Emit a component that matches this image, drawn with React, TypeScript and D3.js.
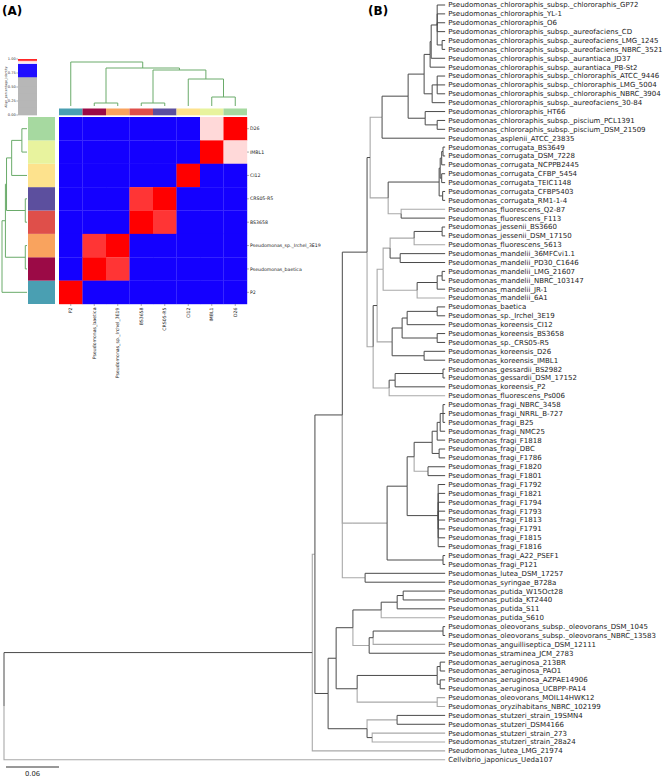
import React from "react";
import * as d3 from "d3";

// ---------------- Panel B data ----------------
const leafNames = [
  "Pseudomonas_chlororaphis_subsp._chlororaphis_GP72",
  "Pseudomonas_chlororaphis_YL-1",
  "Pseudomonas_chlororaphis_O6",
  "Pseudomonas_chlororaphis_subsp._aureofaciens_CD",
  "Pseudomonas_chlororaphis_subsp._aureofaciens_LMG_1245",
  "Pseudomonas_chlororaphis_subsp._aureofaciens_NBRC_3521",
  "Pseudomonas_chlororaphis_subsp._aurantiaca_JD37",
  "Pseudomonas_chlororaphis_subsp._aurantiaca_PB-St2",
  "Pseudomonas_chlororaphis_subsp._chlororaphis_ATCC_9446",
  "Pseudomonas_chlororaphis_subsp._chlororaphis_LMG_5004",
  "Pseudomonas_chlororaphis_subsp._chlororaphis_NBRC_3904",
  "Pseudomonas_chlororaphis_subsp._aureofaciens_30-84",
  "Pseudomonas_chlororaphis_HT66",
  "Pseudomonas_chlororaphis_subsp._piscium_PCL1391",
  "Pseudomonas_chlororaphis_subsp._piscium_DSM_21509",
  "Pseudomonas_asplenii_ATCC_23835",
  "Pseudomonas_corrugata_BS3649",
  "Pseudomonas_corrugata_DSM_7228",
  "Pseudomonas_corrugata_NCPPB2445",
  "Pseudomonas_corrugata_CFBP_5454",
  "Pseudomonas_corrugata_TEIC1148",
  "Pseudomonas_corrugata_CFBP5403",
  "Pseudomonas_corrugata_RM1-1-4",
  "Pseudomonas_fluorescens_Q2-87",
  "Pseudomonas_fluorescens_F113",
  "Pseudomonas_jessenii_BS3660",
  "Pseudomonas_jessenii_DSM_17150",
  "Pseudomonas_fluorescens_5613",
  "Pseudomonas_mandelii_36MFCvi1.1",
  "Pseudomonas_mandelii_PD30_C1646",
  "Pseudomonas_mandelii_LMG_21607",
  "Pseudomonas_mandelii_NBRC_103147",
  "Pseudomonas_mandelii_JR-1",
  "Pseudomonas_mandelii_6A1",
  "Pseudomonas_baetica",
  "Pseudomonas_sp._Irchel_3E19",
  "Pseudomonas_koreensis_CI12",
  "Pseudomonas_koreensis_BS3658",
  "Pseudomonas_sp._CRS05-R5",
  "Pseudomonas_koreensis_D26",
  "Pseudomonas_koreensis_IMBL1",
  "Pseudomonas_gessardii_BS2982",
  "Pseudomonas_gessardii_DSM_17152",
  "Pseudomonas_koreensis_P2",
  "Pseudomonas_fluorescens_Ps006",
  "Pseudomonas_fragi_NBRC_3458",
  "Pseudomonas_fragi_NRRL_B-727",
  "Pseudomonas_fragi_B25",
  "Pseudomonas_fragi_NMC25",
  "Pseudomonas_fragi_F1818",
  "Pseudomonas_fragi_DBC",
  "Pseudomonas_fragi_F1786",
  "Pseudomonas_fragi_F1820",
  "Pseudomonas_fragi_F1801",
  "Pseudomonas_fragi_F1792",
  "Pseudomonas_fragi_F1821",
  "Pseudomonas_fragi_F1794",
  "Pseudomonas_fragi_F1793",
  "Pseudomonas_fragi_F1813",
  "Pseudomonas_fragi_F1791",
  "Pseudomonas_fragi_F1815",
  "Pseudomonas_fragi_F1816",
  "Pseudomonas_fragi_A22_PSEF1",
  "Pseudomonas_fragi_P121",
  "Pseudomonas_lutea_DSM_17257",
  "Pseudomonas_syringae_B728a",
  "Pseudomonas_putida_W15Oct28",
  "Pseudomonas_putida_KT2440",
  "Pseudomonas_putida_S11",
  "Pseudomonas_putida_S610",
  "Pseudomonas_oleovorans_subsp._oleovorans_DSM_1045",
  "Pseudomonas_oleovorans_subsp._oleovorans_NBRC_13583",
  "Pseudomonas_anguilliseptica_DSM_12111",
  "Pseudomonas_straminea_JCM_2783",
  "Pseudomonas_aeruginosa_213BR",
  "Pseudomonas_aeruginosa_PAO1",
  "Pseudomonas_aeruginosa_AZPAE14906",
  "Pseudomonas_aeruginosa_UCBPP-PA14",
  "Pseudomonas_oleovorans_MOIL14HWK12",
  "Pseudomonas_oryzihabitans_NBRC_102199",
  "Pseudomonas_stutzeri_strain_19SMN4",
  "Pseudomonas_stutzeri_DSM4166",
  "Pseudomonas_stutzeri_strain_273",
  "Pseudomonas_stutzeri_strain_28a24",
  "Pseudomonas_lutea_LMG_21974",
  "Cellvibrio_japonicus_Ueda107",
];

// Topology: leaves are 1-based indices into leafNames; "@d" = node depth
// (substitutions/site from root); "*" = edge drawn in light grey.
const cladeChloro =
  "((((((1,2,3,4,(5,6)@0.496)@0.4904,7)@0.4836,8)@0.4824,((9,10,11)@0.4904,12)@0.4847)@0.4756,(13,(14,15)@0.4904)@0.4768)@0.4575,16)@0.428*";
const cladeCorrugata =
  "((((17,18)@0.497,19)@0.4955,(20,21)@0.4955)@0.4938,(22,23)@0.4966)@0.4926";
const cladeFluor = `(${cladeCorrugata},(24*,25)@0.4496*)@0.4349*`;
const cladeUpper = `(${cladeChloro},${cladeFluor})@0.4145`;
const cladeMandelii = "((((26,27)@0.496,28*)@0.4643*,(29,30)@0.4485)@0.4371*,(((31,32)@0.496,33)@0.4904,34*)@0.4677*)@0.4292*";
const cladeKoreensis = "((((35,36)@0.4904,37)@0.4564,(38,39)@0.4904)@0.4507,(40,41)@0.4756)@0.4394*";
const cladeGessardii = "(((42,43)@0.497,44)@0.4428,45*)@0.436*";
const cladeMid = `((${cladeMandelii},${cladeKoreensis})@0.4224,${cladeGessardii})@0.4179*`;
const cladeFragi =
  "((((((((46,47,48)@0.497,49)@0.4938,50)@0.4904,(51,52)@0.4926)@0.4847,(53,54)@0.48*)@0.4643,(55,56,57,58,59,60,61,62)@0.4915)@0.4564,(63,64)@0.497)@0.4337*";
const cladeK = `(((${cladeUpper},${cladeMid})@0.411,${cladeFragi})@0.395*,(65,66)@0.4088*)@0.383`;
const cladePutida = "(((67,68)@0.4519,69)@0.4451,70*)@0.427";
const cladeOleo = "(((71,72)@0.497,73*)@0.4179,74)@0.4134*";
const cladeAer = "(((75,76)@0.4938,(77,78)@0.4938)@0.4904,(79*,80*)@0.4904*)@0.3998";
const cladeStutzeri = "((81,82)@0.445*,(83*,84*)@0.4168)@0.411";
const cladeM = `(((${cladePutida},${cladeOleo})@0.395,${cladeAer})@0.376,${cladeStutzeri})@0.3669`;
const treeTopology = `(((${cladeK},${cladeM})@0.352*,85*)@0.349,86*)@0`;
const tipDepth = 0.4994;
const scaleBarValue = 0.06;

// ---------------- Panel A data ----------------
const heatLabels = [
  "P2",
  "Pseudomonas_baetica",
  "Pseudomonas_sp._Irchel_3E19",
  "BS3658",
  "CRS05-R5",
  "CI12",
  "IMBL1",
  "D26",
];
const heatColors = ["#4a9fb2", "#9b0a46", "#f9a35e", "#df4f4a", "#5c4f9e", "#fde28d", "#e8f39e", "#a6d9a0"];
const identity = [
  [1, 0.8, 0.8, 0.8, 0.8, 0.8, 0.8, 0.8],
  [0.8, 1, 0.98, 0.8, 0.8, 0.8, 0.8, 0.8],
  [0.8, 0.98, 1, 0.8, 0.8, 0.8, 0.8, 0.8],
  [0.8, 0.8, 0.8, 1, 0.98, 0.8, 0.8, 0.8],
  [0.8, 0.8, 0.8, 0.98, 1, 0.8, 0.8, 0.8],
  [0.8, 0.8, 0.8, 0.8, 0.8, 1, 0.8, 0.8],
  [0.8, 0.8, 0.8, 0.8, 0.8, 0.8, 1, 0.955],
  [0.8, 0.8, 0.8, 0.8, 0.8, 0.8, 0.955, 1],
];
// linkage over heatLabels (1-based), "@h" = merge height
const linkage = "(1,((2,3)@3,((4,5)@3,(6,(7,8)@9)@27)@36)@38)@44";
const colorbarTicks = [0, 0.25, 0.5, 0.75, 1];

type TNode = { children?: TNode[]; leaf?: number; depth?: number; gray?: boolean };

function parseTree(src: string): TNode {
  const s = src.replace(/\s+/g, "");
  let i = 0;
  function node(): TNode {
    let n: TNode;
    if (s[i] === "(") {
      i++;
      const children = [node()];
      while (s[i] === ",") {
        i++;
        children.push(node());
      }
      i++; // ')'
      i++; // '@'
      let num = "";
      while (i < s.length && /[0-9.]/.test(s[i])) num += s[i++];
      n = { children, depth: +num };
    } else {
      let num = "";
      while (i < s.length && /[0-9]/.test(s[i])) num += s[i++];
      n = { leaf: +num };
    }
    if (s[i] === "*") {
      n.gray = true;
      i++;
    }
    return n;
  }
  return node();
}

function idColor(v: number): string {
  if (v < 0.68) return "#b3b3b3";
  if (v < 0.92) return "#1400ff";
  if (v < 0.97) return d3.interpolateRgb("#ffffff", "#ffc8c8")((v - 0.92) / 0.05);
  return d3.interpolateRgb("#ff5050", "#ff0000")((v - 0.97) / 0.03);
}

const FONT = "DejaVu Sans, sans-serif";

function Tree() {
  const xs = d3.scaleLinear().domain([0, scaleBarValue]).range([4, 57]);
  const ys = d3.scaleLinear().domain([1, leafNames.length]).range([5, 759.8]);
  const root = d3.hierarchy<TNode>(parseTree(treeTopology), (d) => d.children);
  const pos = new Map<any, { x: number; y: number }>();
  root.eachAfter((n) => {
    if (!n.children) pos.set(n, { x: xs(tipDepth), y: ys(n.data.leaf!) });
    else {
      const a = pos.get(n.children[0])!;
      const b = pos.get(n.children[n.children.length - 1])!;
      pos.set(n, { x: xs(n.data.depth!), y: (a.y + b.y) / 2 });
    }
  });
  const edges: { d: string; gray: boolean }[] = [];
  root.each((n) => {
    if (!n.parent) return;
    const p = pos.get(n.parent)!;
    const c = pos.get(n)!;
    edges.push({ d: `M${p.x},${p.y}V${c.y}H${c.x}`, gray: !!n.data.gray });
  });
  const leaves = root.leaves();
  const barLen = xs(scaleBarValue) - xs(0);
  return (
    <g>
      {edges
        .filter((e) => e.gray)
        .map((e, i) => (
          <path key={"g" + i} d={e.d} fill="none" stroke="#a9a9a9" strokeWidth={1.1} />
        ))}
      {edges
        .filter((e) => !e.gray)
        .map((e, i) => (
          <path key={"k" + i} d={e.d} fill="none" stroke="#4a4a4a" strokeWidth={1} />
        ))}
      {leaves.map((l) => {
        const p = pos.get(l)!;
        return (
          <text key={l.data.leaf} x={p.x + 3} y={p.y} dy="0.35em" fontSize={7} fontFamily={FONT} fill="#222">
            {leafNames[l.data.leaf! - 1]}
          </text>
        );
      })}
      <line x1={6} x2={6 + barLen} y1={767} y2={767} stroke="#333" strokeWidth={1} />
      <text x={6 + barLen / 2} y={776} textAnchor="middle" fontSize={6.8} fontFamily={FONT} fill="#222">
        {scaleBarValue.toFixed(2)}
      </text>
    </g>
  );
}

function Heatmap() {
  const n = heatLabels.length;
  const xCol = d3.scaleBand<number>().domain(d3.range(n)).range([59, 247]);
  const yRow = d3.scaleBand<number>().domain(d3.range(n)).range([117, 304]);
  const cw = xCol.bandwidth();
  const ch = yRow.bandwidth();
  // dendrogram
  const link = d3.hierarchy<TNode>(parseTree(linkage), (d) => d.children);
  const lp = new Map<any, { p: number; h: number }>();
  link.eachAfter((nd) => {
    if (!nd.children) lp.set(nd, { p: nd.data.leaf! - 1, h: 0 });
    else {
      const a = lp.get(nd.children[0])!;
      const b = lp.get(nd.children[1])!;
      lp.set(nd, { p: (a.p + b.p) / 2, h: nd.data.depth! });
    }
  });
  const hY = d3.scaleLinear().domain([0, 44]).range([106, 62]);
  const hX = d3.scaleLinear().domain([0, 44]).range([27, 2]);
  const colX = (p: number) => 59 + cw * (p + 0.5);
  const rowY = (p: number) => 117 + ch * (n - 1 - p + 0.5);
  const colPaths: string[] = [];
  const rowPaths: string[] = [];
  link.each((nd) => {
    if (!nd.children) return;
    const a = lp.get(nd.children[0])!;
    const b = lp.get(nd.children[1])!;
    const h = nd.data.depth!;
    colPaths.push(`M${colX(a.p)},${hY(a.h)}V${hY(h)}H${colX(b.p)}V${hY(b.h)}`);
    rowPaths.push(`M${hX(a.h)},${rowY(a.p)}H${hX(h)}V${rowY(b.p)}H${hX(b.h)}`);
  });
  // colorbar
  const cbY = d3.scaleLinear().domain([0, 1]).range([115, 59]);
  const steps = d3.range(0, 1, 0.005);
  return (
    <g fontFamily={FONT}>
      {/* colorbar */}
      {steps.map((v) => (
        <rect key={v} x={18} width={19} y={cbY(v + 0.005)} height={cbY(v) - cbY(v + 0.005) + 0.3} fill={idColor(v)} />
      ))}
      {colorbarTicks.map((t) => (
        <g key={t}>
          <line x1={16.3} x2={18} y1={cbY(t)} y2={cbY(t)} stroke="#333" strokeWidth={0.4} />
          <text x={15.8} y={cbY(t)} dy="0.35em" textAnchor="end" fontSize={3.6} fill="#333">
            {t.toFixed(2)}
          </text>
        </g>
      ))}
      <text transform={`translate(6,87) rotate(-90)`} textAnchor="middle" dy="0.35em" fontSize={3.2} fill="#333">
        Align_percentage_identity
      </text>
      {/* dendrograms */}
      {colPaths.map((d, i) => (
        <path key={"c" + i} d={d} fill="none" stroke="#6aab6a" strokeWidth={1} />
      ))}
      {rowPaths.map((d, i) => (
        <path key={"r" + i} d={d} fill="none" stroke="#6aab6a" strokeWidth={1} />
      ))}
      {/* colour strips */}
      {heatColors.map((c, i) => (
        <rect key={"cs" + i} x={xCol(i)} y={108.5} width={cw} height={6.8} fill={c} />
      ))}
      {heatColors.map((c, i) => (
        <rect key={"rs" + i} x={28} y={yRow(n - 1 - i)} width={27} height={ch} fill={c} />
      ))}
      {/* cells */}
      {d3.range(n).map((r) =>
        d3.range(n).map((c) => (
          <rect key={r + "-" + c} x={xCol(c)} y={yRow(r)} width={cw + 0.2} height={ch + 0.2} fill={idColor(identity[n - 1 - r][c])} />
        ))
      )}
      {/* labels */}
      {d3.range(n).map((r) => (
        <g key={"rl" + r}>
          <line x1={247} x2={249} y1={yRow(r)! + ch / 2} y2={yRow(r)! + ch / 2} stroke="#333" strokeWidth={0.4} />
          <text x={250} y={yRow(r)! + ch / 2} dy="0.35em" fontSize={4.65} fill="#222">
            {heatLabels[n - 1 - r]}
          </text>
        </g>
      ))}
      {d3.range(n).map((c) => (
        <g key={"cl" + c}>
          <line x1={colX(c)} x2={colX(c)} y1={304} y2={306} stroke="#333" strokeWidth={0.4} />
          <text transform={`translate(${colX(c)},307.5) rotate(-90)`} dy="0.35em" textAnchor="end" fontSize={4.65} fill="#222">
            {heatLabels[c]}
          </text>
        </g>
      ))}
    </g>
  );
}

export default function App() {
  return (
    <svg width={669} height={778} viewBox="0 0 669 778" style={{ position: "absolute", left: 0, top: 0, background: "#fff" }}>
      <rect width={669} height={778} fill="#fff" />
      <text x={2} y={15} fontSize={12} fontWeight="bold" fontFamily={FONT}>(A)</text>
      <text x={368} y={15} fontSize={12} fontWeight="bold" fontFamily={FONT}>(B)</text>
      <Heatmap />
      <Tree />
    </svg>
  );
}
